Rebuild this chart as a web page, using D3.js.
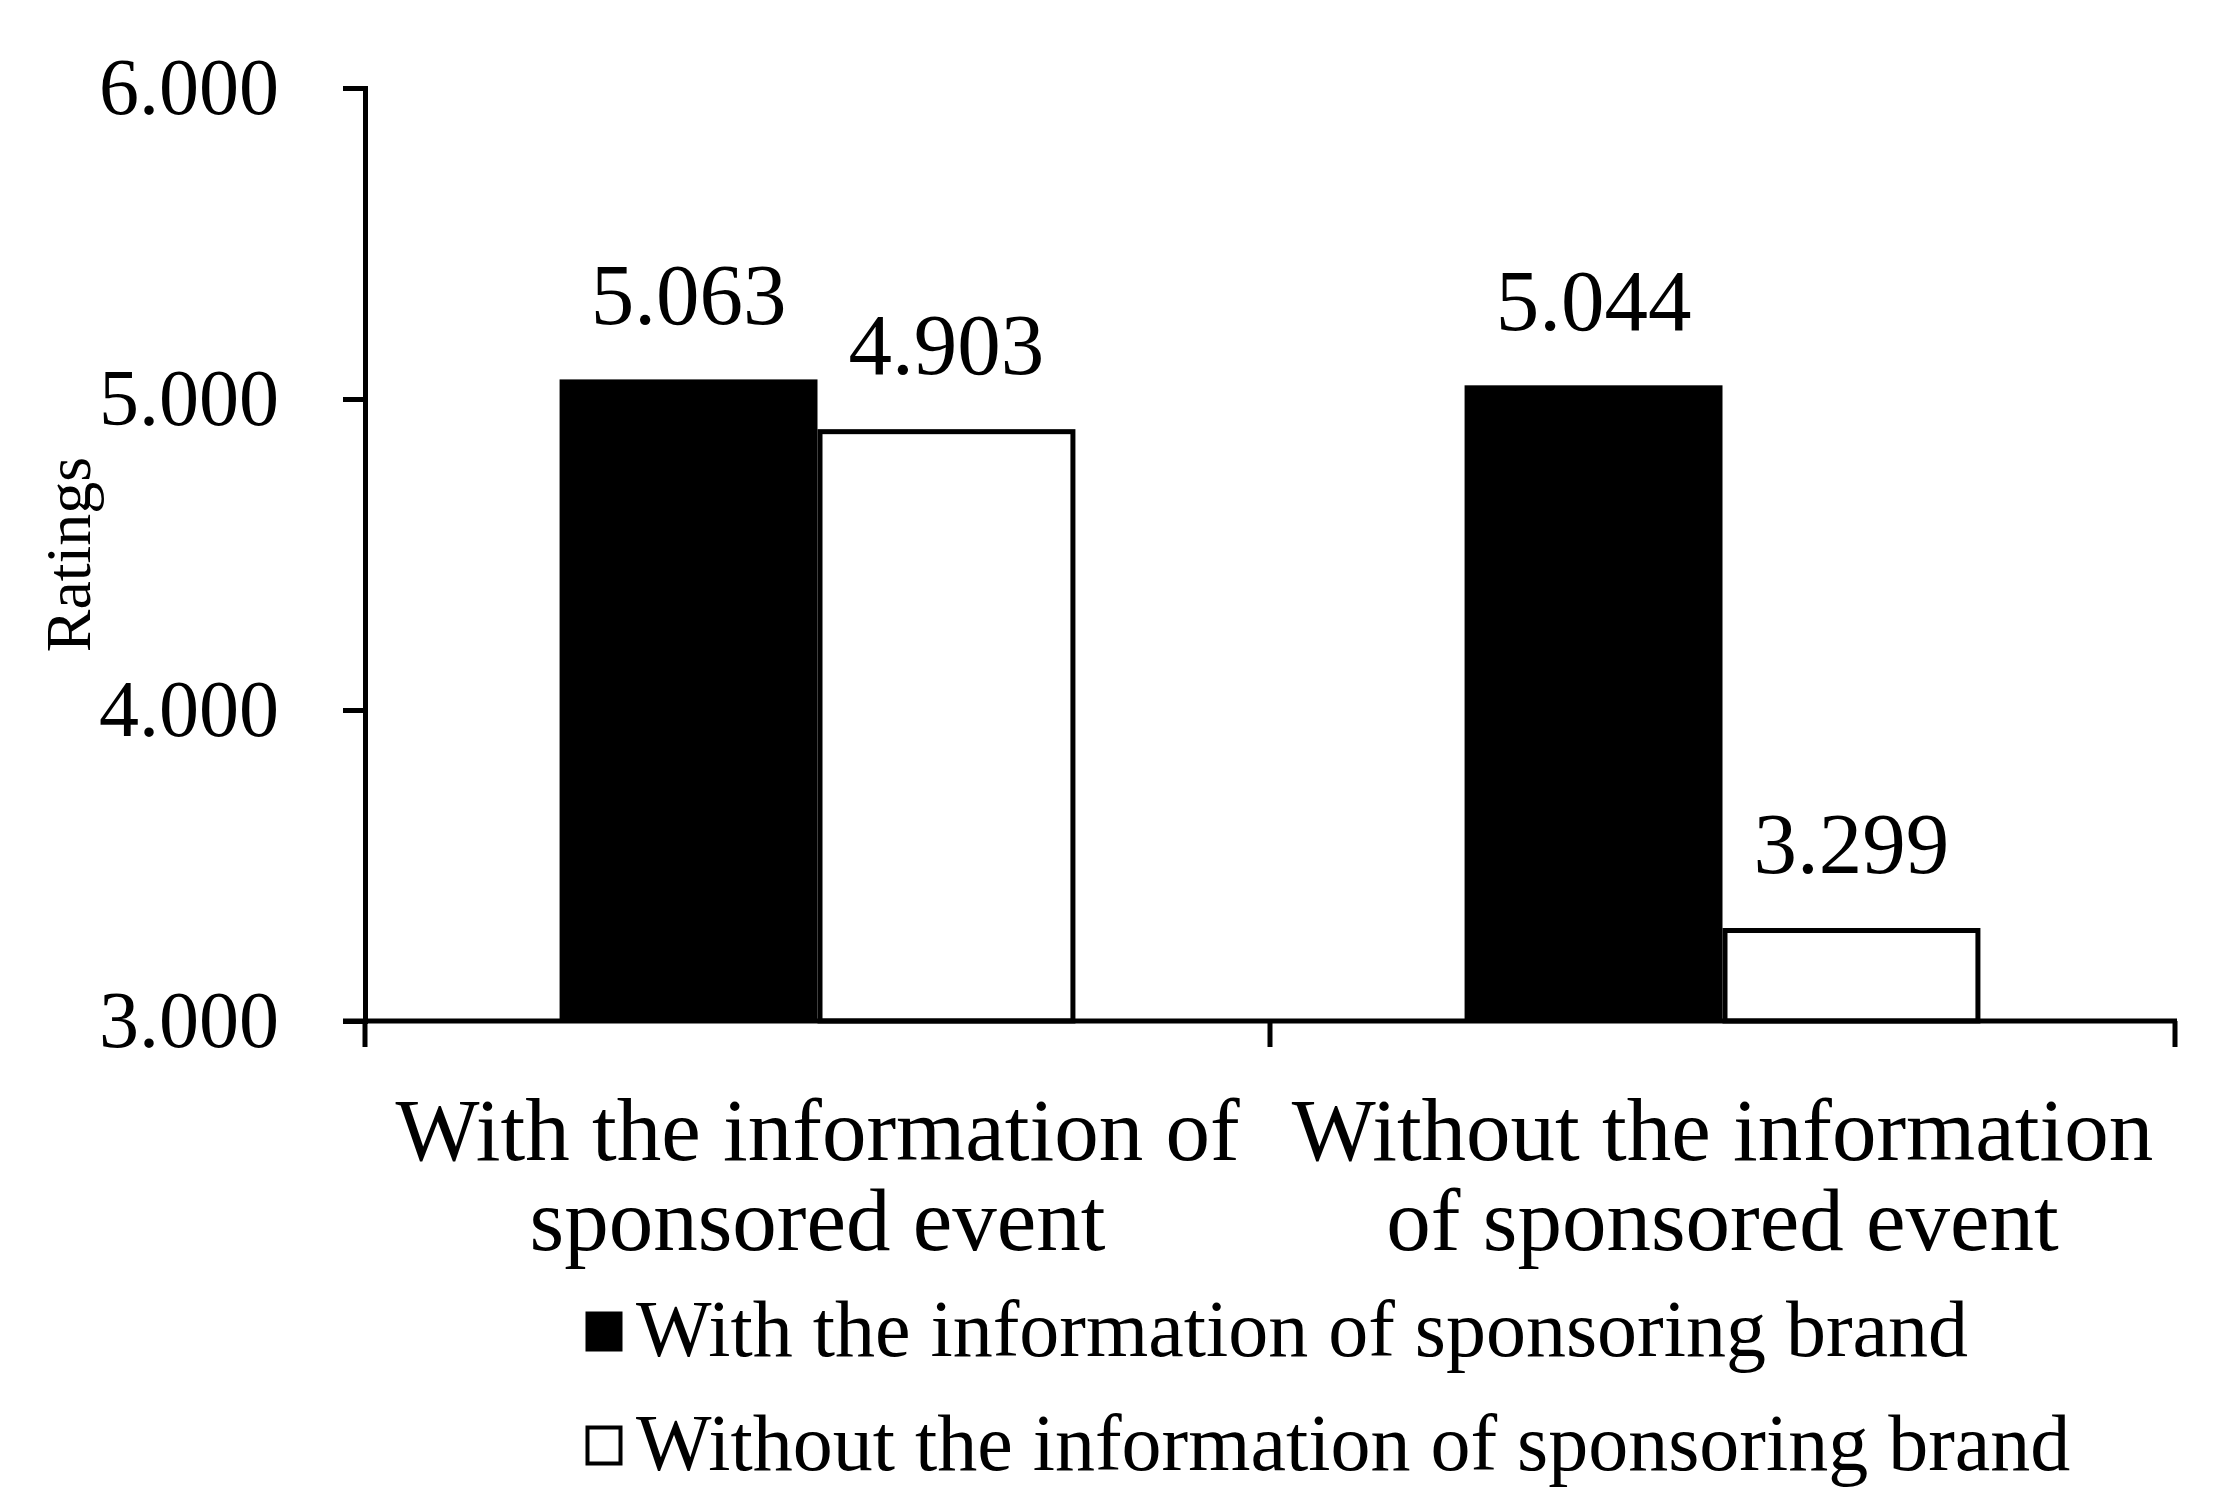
<!DOCTYPE html>
<html>
<head>
<meta charset="utf-8">
<script src="https://cdn.jsdelivr.net/npm/d3@7"></script>
<style>
  html, body { margin: 0; padding: 0; background: #fff; }
  svg text { font-family: "Liberation Serif", "Times New Roman", serif; fill: #000; }
</style>
</head>
<body>
<svg id="chart"></svg>
<script>
// data
var categories = [
  ["With the information of", "sponsored event"],
  ["Without the information", "of sponsored event"]
];
var seriesNames = [
  "With the information of sponsoring brand",
  "Without the information of sponsoring brand"
];
var withBrand = [5.063, 5.044];
var withoutBrand = [4.903, 3.299];
var yTicks = [3, 4, 5, 6];

var width = 2217, height = 1505;
var margin = { left: 365, right: 42, top: 88, bottom: 484 };

var svg = d3.select("#chart")
  .attr("width", width)
  .attr("height", height);

var x0 = d3.scaleBand()
  .domain(d3.range(categories.length))
  .range([margin.left, width - margin.right])
  .paddingInner(0.43)
  .paddingOuter(0.215);

var x1 = d3.scaleBand()
  .domain([0, 1])
  .range([0, x0.bandwidth()]);

var y = d3.scaleLinear()
  .domain([3, 6])
  .range([height - margin.bottom, margin.top]);

var rows = categories.map(function(c, i) {
  return { i: i, values: [withBrand[i], withoutBrand[i]] };
});

// bars
var groups = svg.selectAll(".grp")
  .data(rows)
  .enter().append("g")
  .attr("class", "grp")
  .attr("transform", d => "translate(" + x0(d.i) + ",0)");

groups.selectAll("rect")
  .data(d => d.values.map((v, k) => ({ k: k, v: v })))
  .enter().append("rect")
  .attr("x", d => x1(d.k) + (d.k === 1 ? 2.5 : 0))
  .attr("y", d => y(d.v) + (d.k === 1 ? 2.5 : 0))
  .attr("width", d => x1.bandwidth() - (d.k === 1 ? 5 : 0))
  .attr("height", d => y(3) - y(d.v) - (d.k === 1 ? 2.5 : 0))
  .attr("fill", d => d.k === 0 ? "#000" : "#fff")
  .attr("stroke", "#000")
  .attr("stroke-width", d => d.k === 1 ? 5 : 0);

// value labels
groups.selectAll(".val")
  .data(d => d.values.map((v, k) => ({ k: k, v: v })))
  .enter().append("text")
  .attr("class", "val")
  .attr("x", d => x1(d.k) + x1.bandwidth() / 2)
  .attr("y", d => y(d.v) - 55)
  .attr("text-anchor", "middle")
  .style("font-size", "87px")
  .text(d => d3.format(".3f")(d.v));

// y axis
var yAxis = d3.axisLeft(y)
  .tickValues(yTicks)
  .tickFormat(d3.format(".3f"))
  .tickSize(22)
  .tickPadding(64);

var gy = svg.append("g")
  .attr("transform", "translate(" + margin.left + ",0)")
  .call(yAxis);
gy.select(".domain").attr("stroke-width", 5);
gy.selectAll(".tick line").attr("stroke-width", 5);
gy.selectAll(".tick text")
  .style("font-size", "80px")
  .attr("font-family", null);

// x axis: line with ticks at band boundaries
var xLeft = margin.left, xRight = width - margin.right;
var boundaries = [xLeft, (x0(0) + x0.bandwidth() + x0(1)) / 2, xRight];
var gx = svg.append("g");
gx.append("line")
  .attr("x1", xLeft - 22).attr("x2", xRight + 2)
  .attr("y1", y(3)).attr("y2", y(3))
  .attr("stroke", "#000").attr("stroke-width", 5);
gx.selectAll(".xt")
  .data(boundaries)
  .enter().append("line")
  .attr("x1", d => d).attr("x2", d => d)
  .attr("y1", y(3)).attr("y2", y(3) + 26)
  .attr("stroke", "#000").attr("stroke-width", 5);

// category labels
var cat = svg.selectAll(".cat")
  .data(categories)
  .enter().append("text")
  .attr("class", "cat")
  .attr("text-anchor", "middle")
  .style("font-size", "89px");
cat.selectAll("tspan")
  .data((d, i) => d.map(t => ({ t: t, i: i })))
  .enter().append("tspan")
  .attr("x", d => x0(d.i) + x0.bandwidth() / 2)
  .attr("y", (d, j) => 1160 + j * 90)
  .text(d => d.t);

// y axis title
svg.append("text")
  .attr("transform", "translate(90," + ((y(3) + y(6)) / 2) + ") rotate(-90)")
  .attr("text-anchor", "middle")
  .style("font-size", "64px")
  .text("Ratings");

// legend
var legend = svg.selectAll(".leg")
  .data(seriesNames)
  .enter().append("g")
  .attr("class", "leg")
  .attr("transform", (d, i) => "translate(586," + (1312 + i * 114) + ")");
legend.append("rect")
  .attr("x", 1.5).attr("y", 1.5)
  .attr("width", 33).attr("height", 36)
  .attr("fill", (d, i) => i === 0 ? "#000" : "#fff")
  .attr("stroke", "#000")
  .attr("stroke-width", 4);
legend.append("text")
  .attr("x", 50)
  .attr("y", 44)
  .style("font-size", "80px")
  .text(d => d);
</script>
</body>
</html>
